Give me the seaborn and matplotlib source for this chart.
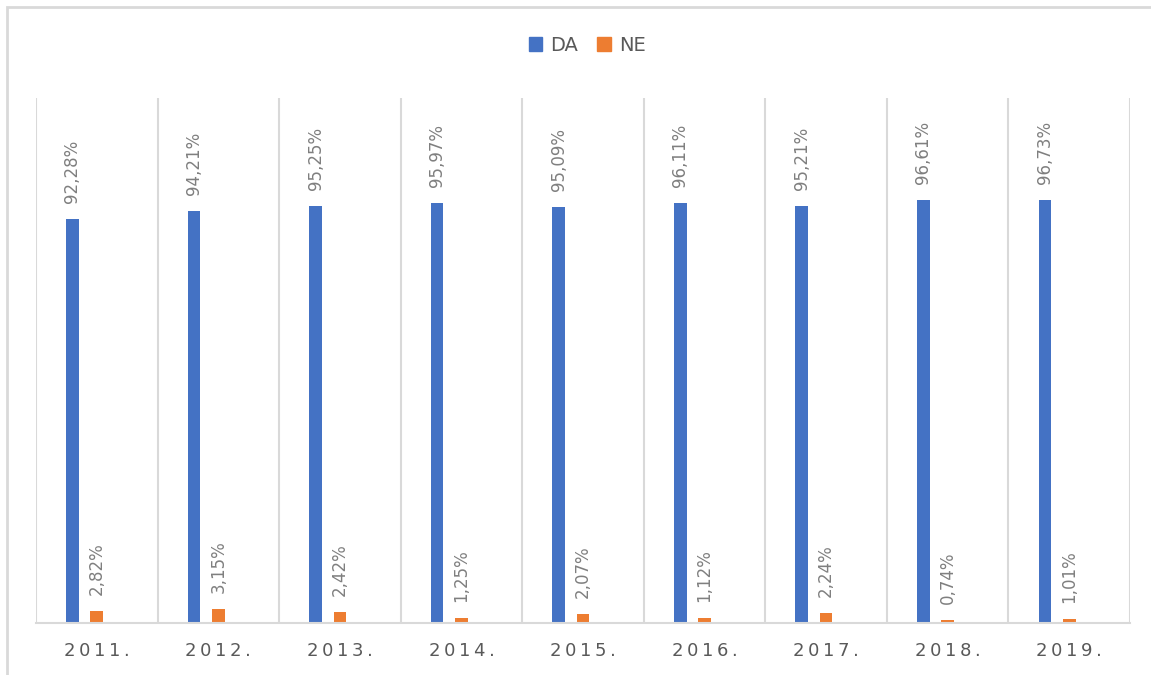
import pandas as pd
import numpy as np
import matplotlib
matplotlib.use("Agg")
import matplotlib.pyplot as plt
import matplotlib.patches as mpatches
import seaborn as sns

# ---------- DATA ----------
years = ["2011.", "2012.", "2013.", "2014.", "2015.", "2016.", "2017.", "2018.", "2019."]
da = [92.28, 94.21, 95.25, 95.97, 95.09, 96.11, 95.21, 96.61, 96.73]
ne = [2.82, 3.15, 2.42, 1.25, 2.07, 1.12, 2.24, 0.74, 1.01]

BLUE = "#4472C4"
ORANGE = "#ED7D31"
GRID = "#D9D9D9"
TEXT = "#595959"

df = pd.DataFrame({
    "year": years * 2,
    "value": da + ne,
    "series": ["DA"] * len(years) + ["NE"] * len(years),
})

sns.set_theme(style="white")
plt.rcParams["font.family"] = ["DejaVu Sans"]

fig = plt.figure(figsize=(11.51, 6.75), dpi=100)
ax = fig.add_axes([36 / 1151, 1 - 623 / 675, (1130 - 36) / 1151, (623 - 98) / 675])

# third (empty) slot keeps the Excel-like bar placement
sns.barplot(
    data=df, x="year", y="value", hue="series",
    hue_order=["DA", "NE", "_blank"],
    palette={"DA": BLUE, "NE": ORANGE, "_blank": "white"},
    width=0.6, gap=0.48, dodge=True, ax=ax, legend=False,
    saturation=1, errorbar=None, linewidth=0,
)

for cont in ax.containers:
    vals = [b.get_height() for b in cont]
    labels = [f"{v:.2f}%".replace(".", ",") for v in vals]
    ax.bar_label(cont, labels=labels, rotation=90, padding=11.5,
                 fontsize=12, color="#7F7F7F")

ax.set_ylim(0, 120)
ax.set_xlim(-0.5, len(years) - 0.5)
ax.set_yticks([])
ax.set_xlabel("")
ax.set_ylabel("")
ax.set_xticks(range(len(years)))
ax.set_xticklabels(["\u2009".join(y) for y in years], fontsize=13, color=TEXT)
ax.tick_params(axis="x", length=0, pad=14)
ax.set_xticks(np.arange(-0.5, len(years), 1), minor=True)
ax.tick_params(axis="x", which="minor", length=0)
ax.grid(axis="x", which="minor", color=GRID, linewidth=1.5)
ax.grid(axis="x", which="major", visible=False)
for side in ["top", "left", "right"]:
    ax.spines[side].set_visible(False)
ax.spines["bottom"].set_color(GRID)
ax.spines["bottom"].set_linewidth(1.5)

handles = [mpatches.Patch(color=BLUE, label="DA"), mpatches.Patch(color=ORANGE, label="NE")]
fig.legend(handles=handles, loc="center", bbox_to_anchor=(0.51, 0.933), ncol=2,
           frameon=False, fontsize=14, handlelength=0.7, handleheight=0.7,
           handletextpad=0.4, columnspacing=1.0, labelcolor=TEXT)

# chart border (top and left visible, rest cropped)
fig.patches.append(mpatches.Rectangle((7 / 1151, -0.1), 1.2, 1 - 7 / 675 + 0.1,
                                      transform=fig.transFigure, fill=False,
                                      edgecolor=GRID, linewidth=2))

fig.savefig("out.png", dpi=100)
